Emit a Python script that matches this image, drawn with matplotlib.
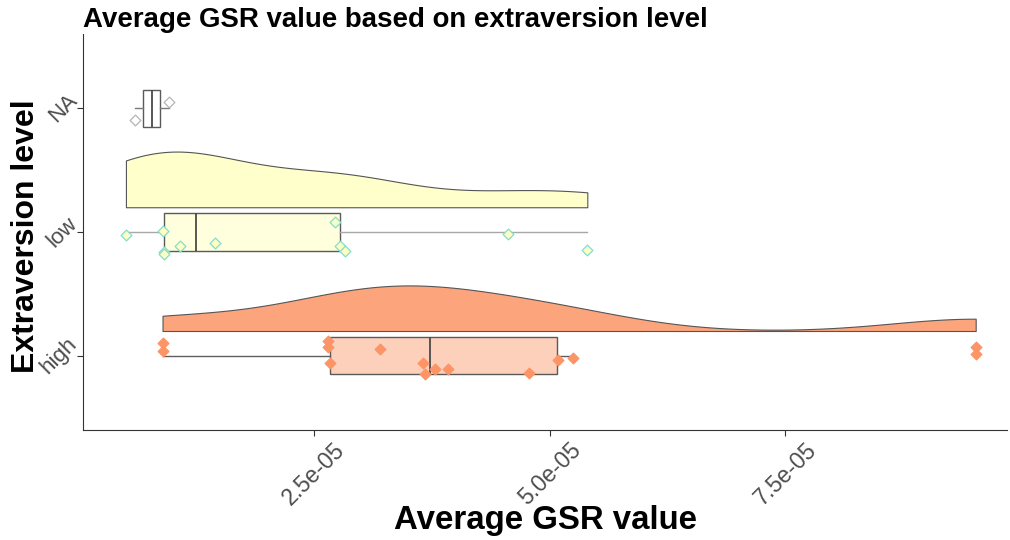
import numpy as np
import matplotlib
matplotlib.use("Agg")
import matplotlib.pyplot as plt

plt.rcParams['font.family'] = ['Liberation Sans', 'DejaVu Sans']

# categories, bottom to top
groups = ["high", "low", "NA"]

# average GSR values per participant (units of 1e-05)
high_vals = [0.897, 0.897, 2.656, 2.656, 2.670, 3.207, 3.656, 3.676, 3.789,
             3.920, 4.785, 5.089, 5.248, 9.517, 9.517]
low_vals = [0.509, 0.901, 0.908, 0.908, 1.077, 1.458, 2.722, 2.777, 2.836,
            4.555, 5.400]
na_vals = [0.604, 0.963]

# vertical jitter of the points, as seen in the picture
high_jit = [0.107, 0.039, 0.120, 0.067, -0.061, 0.053, -0.061, -0.150, -0.110,
            -0.104, -0.142, -0.037, -0.018, 0.067, 0.012]
low_jit = [-0.024, 0.012, -0.160, -0.180, -0.114, -0.086, 0.082, -0.114, -0.151,
           -0.013, -0.142]
na_jit = [-0.091, 0.053]

# boxplot statistics (units of 1e-05)
box_q1 = [2.677, 0.908, 0.691]
box_med = [3.737, 1.257, 0.781]
box_q3 = [5.083, 2.780, 0.871]
whisk_lo = [0.897, 0.505, 0.604]
whisk_hi = [5.251, 5.400, 0.963]

xticks = [2.5e-05, 5.0e-05, 7.5e-05]
xtick_labels = ["2.5e-05", "5.0e-05", "7.5e-05"]

SCALE = 1e-05

violin_fill = ["#FCA57D", "#FFFFCC", None]
box_fill = ["#FDD0BB", "#FFFFDD", "#FFFFFF"]
whisk_col = ["#5E5E5E", "#A8A8A8", "#7A7A7A"]
pt_face = ["#FC9466", "#FFFFC4", "#FFFFFF"]
pt_edge = ["#FC9466", "#80DDD2", "#B5B5B5"]


def density(vals):
    v = np.asarray(vals) * SCALE
    n = len(v)
    sd = v.std(ddof=1)
    iqr = np.subtract(*np.percentile(v, [75, 25]))
    bw = 0.9 * min(sd, iqr / 1.34) * n ** -0.2
    grid = np.linspace(v.min(), v.max(), 512)
    d = np.exp(-0.5 * ((grid[:, None] - v[None, :]) / bw) ** 2).sum(1)
    d = d / (n * bw * np.sqrt(2 * np.pi))
    return grid, d


fig = plt.figure(figsize=(10.1, 5.4), dpi=100)
ax = fig.add_axes([83 / 1010, 110 / 540, 924 / 1010, 396 / 540])

all_vals = [high_vals, low_vals, na_vals]
all_jit = [high_jit, low_jit, na_jit]

# flat violins (high and low only)
dens = [density(high_vals), density(low_vals)]
dmax = max(d.max() for g, d in dens)
for i, (g, d) in enumerate(dens):
    base = i + 1 + 0.2
    ax.fill_between(g, base, base + d / dmax * 0.45, facecolor=violin_fill[i],
                    edgecolor="#555555", linewidth=0.8, zorder=1)

# boxplots
for i in range(3):
    st = [dict(q1=box_q1[i] * SCALE, med=box_med[i] * SCALE, q3=box_q3[i] * SCALE,
               whislo=whisk_lo[i] * SCALE, whishi=whisk_hi[i] * SCALE, fliers=[])]
    ax.bxp(st, positions=[i + 1], widths=0.3, orientation="horizontal",
           showcaps=False, showfliers=False, patch_artist=True,
           boxprops=dict(facecolor=box_fill[i], edgecolor="#5A5A5A", linewidth=1),
           medianprops=dict(color="#4A4A4A", linewidth=1.3),
           whiskerprops=dict(color=whisk_col[i], linewidth=1), zorder=2)

# jittered points
for i in range(3):
    x = np.asarray(all_vals[i]) * SCALE
    y = i + 1 + np.asarray(all_jit[i])
    ax.scatter(x, y, marker="D", s=30, facecolor=pt_face[i], edgecolor=pt_edge[i],
               linewidth=0.9, zorder=3)

ax.set_xlim(0.054e-05, 9.849e-05)
ax.set_ylim(0.4, 3.6)
ax.set_xticks(xticks)
ax.set_xticklabels(xtick_labels, rotation=45, ha="center", fontsize=16.5, color="#4D4D4D")
ax.set_yticks([1, 2, 3])
ax.set_yticklabels(groups, rotation=45, ha="right", va="center", fontsize=16,
                   color="#4D4D4D")
ax.tick_params(axis="both", length=4, color="#333333", width=0.8)
ax.tick_params(axis="x", pad=2)
ax.tick_params(axis="y", pad=-3)
for s in ["top", "right"]:
    ax.spines[s].set_visible(False)
for s in ["left", "bottom"]:
    ax.spines[s].set_color("#333333")
    ax.spines[s].set_linewidth(0.8)

ax.set_xlabel("Average GSR value", fontsize=23.8, fontweight="bold")
ax.xaxis.set_label_coords(0.5, -0.19)
ax.set_ylabel("Extraversion level", fontsize=23, fontweight="bold")
ax.yaxis.set_label_coords(-0.045, 0.49)
ax.set_title("Average GSR value based on extraversion level", loc="left",
             fontsize=19.9, fontweight="bold", pad=5)

fig.savefig("out.png", dpi=100)
